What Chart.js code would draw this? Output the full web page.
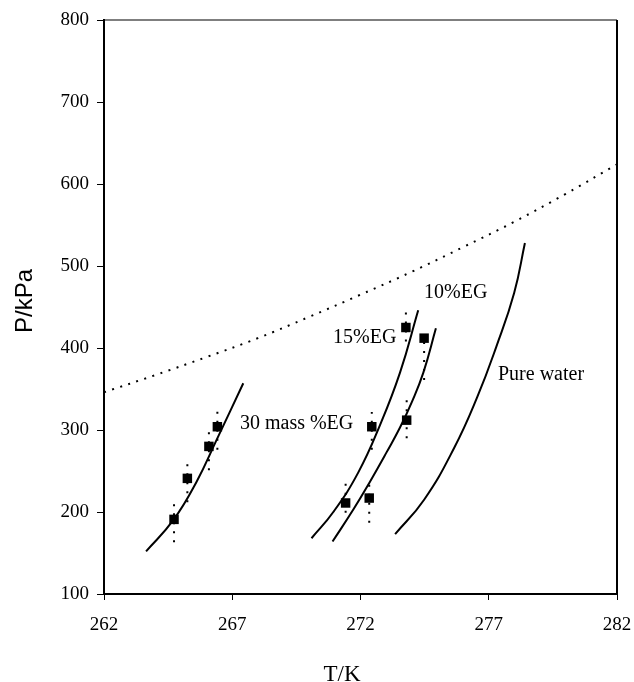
<!DOCTYPE html>
<html>
<head>
<meta charset="utf-8">
<script src="https://cdn.jsdelivr.net/npm/chart.js@4.4.0/dist/chart.umd.min.js"></script>
<style>
  html, body { margin: 0; padding: 0; background: #fff; }
</style>
</head>
<body>
<canvas id="chart" width="634" height="682"></canvas>
<script>
// axis ticks
const tTicks = [262, 267, 272, 277, 282];
const pTicks = [100, 200, 300, 400, 500, 600, 700, 800];

// dotted boundary line
const iceT = [262, 264, 266, 268, 270, 272, 274, 276, 278, 280, 282];
const iceP = [346, 367, 389, 412, 438, 465, 493, 523, 554, 588, 624];

// smooth curves
const eg30T = [263.64, 264.70, 265.61, 266.39, 267.43];
const eg30P = [152, 190, 237, 288, 357];
const eg15T = [270.09, 270.94, 271.91, 272.76, 273.54, 274.25];
const eg15P = [168, 200, 248, 306, 370, 446];
const eg10T = [270.91, 271.72, 272.37, 273.02, 273.54, 274.00, 274.45, 274.94];
const eg10P = [164, 203, 237, 273, 303, 334, 370, 424];
const waterT = [273.35, 274.48, 275.65, 276.55, 277.30, 277.99, 278.41];
const waterP = [173, 215, 278, 340, 402, 467, 528];

// measured points with ranges
const m30T = [264.73, 265.25, 266.09, 266.42];
const m30P = [191, 241, 280, 304];
const m30Lo = [163, 212, 251, 276];
const m30Hi = [211, 260, 299, 324];
const m15T = [271.42, 272.44, 273.77];
const m15P = [211, 304, 425];
const m15Lo = [199, 276, 408];
const m15Hi = [235, 322, 444];
const m10T = [272.34, 273.80, 274.48];
const m10P = [217, 312, 412];
const m10Lo = [187, 290, 361];
const m10Hi = [239, 339, 416];

// curve labels
const labelText = ['30 mass %EG', '15%EG', '10%EG', 'Pure water'];
const labelT = [267.30, 270.93, 274.48, 277.36];
const labelP = [308, 412, 467, 367];

const pts = (xs, ys) => xs.map((x, i) => ({ x: x, y: ys[i] }));
const bars = (xs, lo, hi) => {
  const out = [];
  xs.forEach((x, i) => {
    out.push({ x: x, y: lo[i] }, { x: x, y: hi[i] }, { x: x, y: null });
  });
  return out;
};

const curve = (data) => ({
  type: 'line', data: data, borderColor: '#000', borderWidth: 2,
  pointRadius: 0, tension: 0.45, fill: false, order: 3
});
const errBar = (data) => ({
  type: 'line', data: data, borderColor: '#000', borderWidth: 2,
  borderDash: [2, 7], pointRadius: 0, spanGaps: false, fill: false, order: 2
});
const marks = (data) => ({
  type: 'scatter', data: data, pointStyle: 'rect', pointRadius: 6.7,
  backgroundColor: '#000', borderColor: '#000', borderWidth: 0, order: 1
});

const serif = 'Liberation Serif, Times New Roman, serif';

const extras = {
  id: 'extras',
  afterDraw(chart) {
    const { ctx, chartArea: a, scales } = chart;
    ctx.save();
    ctx.strokeStyle = '#000';
    ctx.lineWidth = 1.2;
    ctx.beginPath();
    ctx.moveTo(a.left, a.top);
    ctx.lineTo(a.right, a.top);
    ctx.stroke();
    ctx.lineWidth = 2;
    ctx.beginPath();
    ctx.moveTo(a.right, a.top);
    ctx.lineTo(a.right, a.bottom);
    ctx.stroke();

    ctx.fillStyle = '#000';
    ctx.font = '20px ' + serif;
    ctx.textAlign = 'left';
    ctx.textBaseline = 'middle';
    labelText.forEach((t, i) => {
      ctx.fillText(t, scales.x.getPixelForValue(labelT[i]), scales.y.getPixelForValue(labelP[i]));
    });

    ctx.textAlign = 'center';
    ctx.textBaseline = 'alphabetic';
    ctx.font = '23px ' + serif;
    ctx.fillText('T/K', 342, 681);

    ctx.translate(25, 301);
    ctx.rotate(-Math.PI / 2);
    ctx.textBaseline = 'middle';
    ctx.font = '24px Liberation Sans, Arial, sans-serif';
    ctx.fillText('P/kPa', 0, 0);
    ctx.restore();
  }
};

new Chart(document.getElementById('chart'), {
  data: {
    datasets: [
      marks(pts(m30T, m30P)),
      marks(pts(m15T, m15P)),
      marks(pts(m10T, m10P)),
      errBar(bars(m30T, m30Lo, m30Hi)),
      errBar(bars(m15T, m15Lo, m15Hi)),
      errBar(bars(m10T, m10Lo, m10Hi)),
      curve(pts(eg30T, eg30P)),
      curve(pts(eg15T, eg15P)),
      curve(pts(eg10T, eg10P)),
      curve(pts(waterT, waterP)),
      {
        type: 'line', data: pts(iceT, iceP), borderColor: '#000', borderWidth: 2,
        borderDash: [2, 6.5], pointRadius: 0, tension: 0.4,
        fill: false, order: 4
      }
    ]
  },
  options: {
    responsive: false,
    animation: false,
    devicePixelRatio: 1,
    layout: { padding: { top: 20, right: 17, left: 0, bottom: 0 } },
    plugins: { legend: { display: false }, tooltip: { enabled: false } },
    scales: {
      x: {
        type: 'linear', min: 262, max: 282,
        afterBuildTicks: s => { s.ticks = tTicks.map(v => ({ value: v })); },
        afterFit: s => { s.height = 88; s.paddingLeft = 0; s.paddingRight = 0; },
        ticks: { color: '#000', font: { family: serif, size: 19 }, padding: 14, maxRotation: 0 },
        grid: { drawOnChartArea: false, color: '#000', tickLength: 6 },
        border: { color: '#000', width: 2 }
      },
      y: {
        type: 'linear', min: 100, max: 800,
        afterBuildTicks: s => { s.ticks = pTicks.map(v => ({ value: v })); },
        afterFit: s => { s.width = 104; s.paddingTop = 0; s.paddingBottom = 0; },
        ticks: { color: '#000', font: { family: serif, size: 19 }, padding: 8 },
        grid: { drawOnChartArea: false, color: '#000', tickLength: 7 },
        border: { color: '#000', width: 2 }
      }
    }
  },
  plugins: [extras]
});
</script>
</body>
</html>
